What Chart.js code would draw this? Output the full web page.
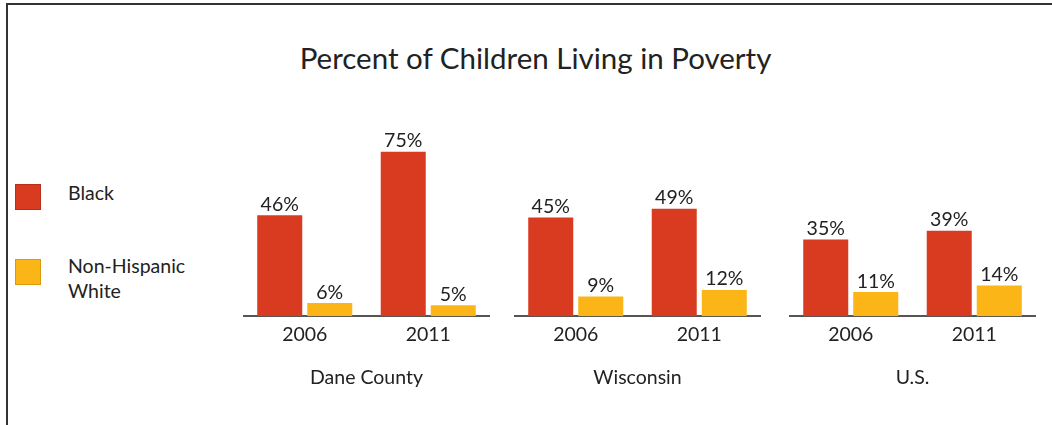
<!DOCTYPE html>
<html>
<head>
<meta charset="utf-8">
<script src="https://cdn.jsdelivr.net/npm/chart.js@4.4.0/dist/chart.umd.min.js"></script>
<style>
  body { margin: 0; background: #fff; font-family: Lato, "Open Sans", sans-serif; color: #222; }
  #frame { position: absolute; left: 6px; top: 3px; width: 1060px; height: 440px;
           border-left: 2px solid #333; border-top: 2px solid #333; }
  #title { position: absolute; left: 0; width: 1071px; top: 40px; text-align: center; font-size: 29.5px; line-height: 35px; }
  .sw { position: absolute; left: 15px; width: 26px; height: 26px; box-sizing: border-box; }
  .lg { position: absolute; left: 68px; font-size: 19.5px; line-height: 25px; }
  .panel { position: absolute; top: 97px; width: 247px; height: 292px; }
</style>
</head>
<body>
<div id="frame"></div>
<div id="title">Percent of Children Living in Poverty</div>
<div class="sw" style="top:184px; background:#D83B20; border:1px solid #B8301A"></div>
<div class="lg" style="top:180px">Black</div>
<div class="sw" style="top:259px; background:#FBB517; border:1px solid #D99A10"></div>
<div class="lg" style="top:253px">Non-Hispanic<br>White</div>
<div class="panel" style="left:243px"><canvas id="c0"></canvas></div>
<div class="panel" style="left:514px"><canvas id="c1"></canvas></div>
<div class="panel" style="left:789px"><canvas id="c2"></canvas></div>
<script>
const regions = ['Dane County', 'Wisconsin', 'U.S.'];
const years = ['2006', '2011'];
const blackPct = [[46, 75], [45, 49], [35, 39]];
const whitePct = [[6, 5], [9, 12], [11, 14]];

const valueLabels = {
  id: 'valueLabels',
  afterDatasetsDraw(chart) {
    const ctx = chart.ctx;
    ctx.save();
    ctx.font = '19.5px Lato, "Open Sans", sans-serif';
    ctx.fillStyle = '#222';
    ctx.textAlign = 'center';
    ctx.textBaseline = 'bottom';
    chart.data.datasets.forEach((ds, i) => {
      chart.getDatasetMeta(i).data.forEach((bar, j) => {
        ctx.fillText(ds.data[j] + '%', bar.x, bar.y - 1);
      });
    });
    ctx.restore();
  }
};

regions.forEach((name, r) => {
  new Chart(document.getElementById('c' + r), {
    type: 'bar',
    data: {
      labels: years,
      datasets: [
        { label: 'Black', data: blackPct[r], backgroundColor: '#D83B20' },
        { label: 'Non-Hispanic White', data: whitePct[r], backgroundColor: '#FBB517' }
      ]
    },
    options: {
      responsive: true,
      maintainAspectRatio: false,
      animation: false,
      datasets: { bar: { categoryPercentage: 0.81, barPercentage: 0.9 } },
      layout: { padding: 0 },
      plugins: { legend: { display: false }, tooltip: { enabled: false } },
      scales: {
        y: { display: false, min: 0, max: 100 },
        x: {
          grid: { display: false, drawTicks: false },
          border: { display: true, color: '#555', width: 2 },
          ticks: { color: '#222', padding: 7, font: { family: 'Lato', size: 19.5 } },
          title: { display: true, text: name, color: '#222', padding: { top: 12, bottom: 0 },
                   font: { family: 'Lato', size: 19.5 } }
        }
      }
    },
    plugins: [valueLabels]
  });
});
</script>
</body>
</html>
